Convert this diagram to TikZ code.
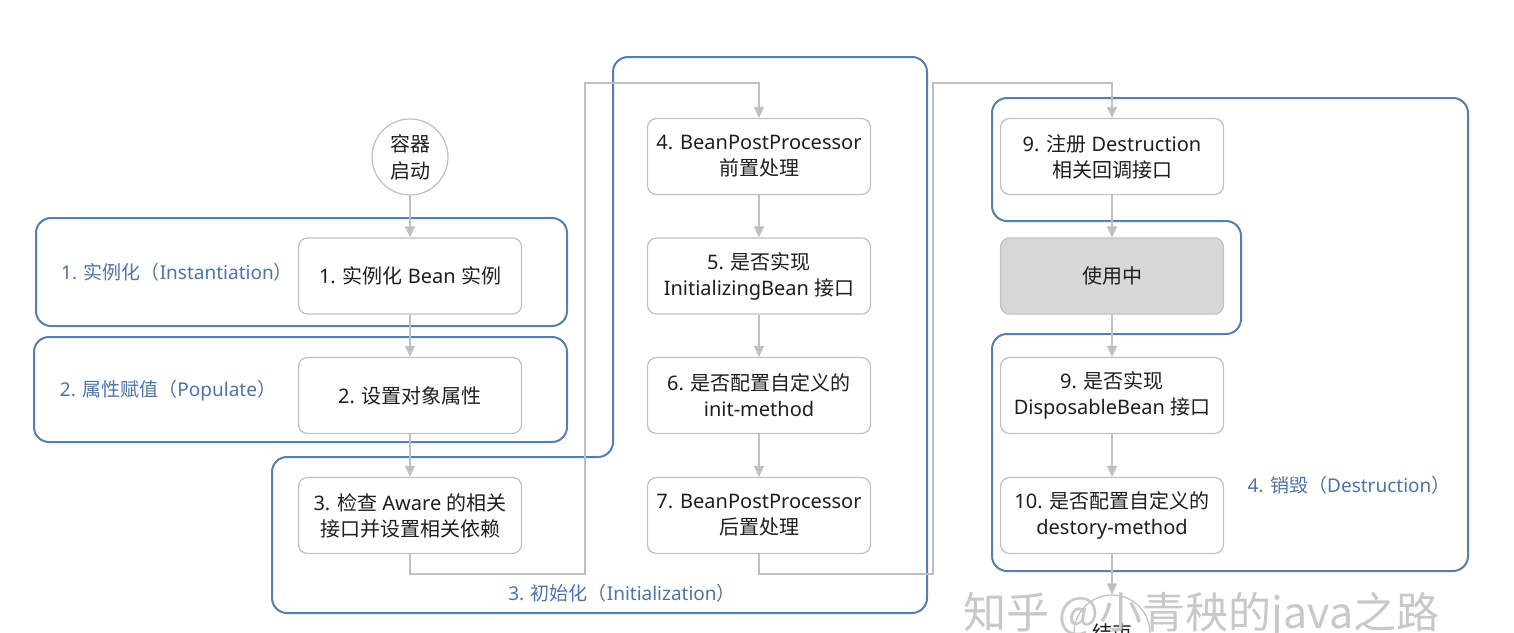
\documentclass[tikz,border=0pt]{standalone}
\usepackage{fontspec}
\setmainfont{Noto Sans}
\newfontfamily\cjk{Noto Sans CJK SC}
\usetikzlibrary{arrows.meta}
\definecolor{grpblue}{RGB}{88,126,174}
\definecolor{lblblue}{RGB}{76,116,168}
\definecolor{boxgray}{RGB}{192,192,192}
\definecolor{linegray}{RGB}{192,192,192}
\definecolor{txt}{RGB}{30,30,30}
\definecolor{usefill}{RGB}{216,216,216}
\definecolor{wmark}{RGB}{200,200,200}
\newcommand\zhs[1]{{\cjk #1}}
\begin{document}
\begin{tikzpicture}[x=1pt,y=-1pt,
  stepbox/.style={draw=boxgray, fill=white, line width=1.2pt, rounded corners=9pt, minimum width=223pt, minimum height=76pt, align=center, text=txt, font=\fontsize{20pt}{26pt}\selectfont, inner sep=0pt},
  endpt/.style={circle, draw=boxgray, fill=white, line width=1.2pt, minimum size=76pt, inner sep=0pt, align=center, text=txt, font=\cjk\fontsize{20pt}{27pt}\selectfont},
  grp/.style={draw=grpblue, line width=2pt, rounded corners=15pt},
  grplabel/.style={text=lblblue, font=\fontsize{19pt}{25pt}\selectfont, inner sep=0pt},
  flow/.style={draw=linegray, line width=1.3pt, -{Triangle[width=10pt,length=11pt]}},
]
\fill[white] (0,0) rectangle (1514,632);
\useasboundingbox (0,0) rectangle (1514,632);

% groups
\draw[grp] (36,218) rectangle (567,326);
\draw[grp] (34,337) rectangle (567,442);
\draw[grp] (770,57) -- (927,57) -- (927,613) -- (272,613) -- (272,457) -- (613,457) -- (613,57) -- cycle;
\draw[grp] (1230,98) -- (1468,98) -- (1468,571) -- (992,571) -- (992,334) -- (1241,334) -- (1241,221) -- (992,221) -- (992,98) -- cycle;

% group labels
\node[grplabel] (l1) at (177,272) {1. \zhs{实例化（}Instantiation\zhs{）}};
\node[grplabel] (l2) at (168,391) {2. \zhs{属性赋值（}Populate\zhs{）}};
\node[grplabel] (l3) at (622,593) {3. \zhs{初始化（}Initialization\zhs{）}};
\node[grplabel] (l4) at (1349,485) {4. \zhs{销毁（}Destruction\zhs{）}};

% nodes
\node[endpt] (start) at (410,157) {容器\\启动};
\node[stepbox] (b1) at (410,276) {1. \zhs{实例化} Bean \zhs{实例}};
\node[stepbox] (b2) at (410,395.5) {2. \zhs{设置对象属性}};
\node[stepbox] (b3) at (410,515.5) {3. \zhs{检查} Aware \zhs{的相关}\\\zhs{接口并设置相关依赖}};
\node[stepbox] (b4) at (759,156.5) {4. BeanPostProcessor\\\zhs{前置处理}};
\node[stepbox] (b5) at (759,276) {5. \zhs{是否实现}\\InitializingBean \zhs{接口}};
\node[stepbox] (b6) at (759,395.5) {6. \zhs{是否配置自定义的}\\init-method};
\node[stepbox] (b7) at (759,515.5) {7. BeanPostProcessor\\\zhs{后置处理}};
\node[stepbox] (b9a) at (1112,156.5) {9. \zhs{注册} Destruction\\\zhs{相关回调接口}};
\node[stepbox, fill=usefill] (use) at (1112,276) {\zhs{使用中}};
\node[stepbox] (b9b) at (1112,395.5) {9. \zhs{是否实现}\\DisposableBean \zhs{接口}};
\node[stepbox] (b10) at (1112,515.5) {10. \zhs{是否配置自定义的}\\destory-method};
\node[endpt] (stop) at (1112,633) {结束};

% route coordinates
\coordinate (c1) at (585,574);
\coordinate (c2) at (585,83);
\coordinate (c3) at (933,574);
\coordinate (c4) at (933,83);

% connectors
\draw[flow] (start) -- (b1);
\draw[flow] (b1) -- (b2);
\draw[flow] (b2) -- (b3);
\draw[flow] (b3.south) |- (c1) -- (c2) -| (b4.north);
\draw[flow] (b4) -- (b5);
\draw[flow] (b5) -- (b6);
\draw[flow] (b6) -- (b7);
\draw[flow] (b7.south) |- (c3) -- (c4) -| (b9a.north);
\draw[flow] (b9a) -- (use);
\draw[flow] (use) -- (b9b);
\draw[flow] (b9b) -- (b10);
\draw[flow] (b10) -- (stop);

% watermark
\node[anchor=base west, text=wmark, font=\cjk\fontsize{43pt}{43pt}\selectfont, inner sep=0pt] (wm) at (963,628) {知乎 @小青秧的java之路};
\end{tikzpicture}
\end{document}
